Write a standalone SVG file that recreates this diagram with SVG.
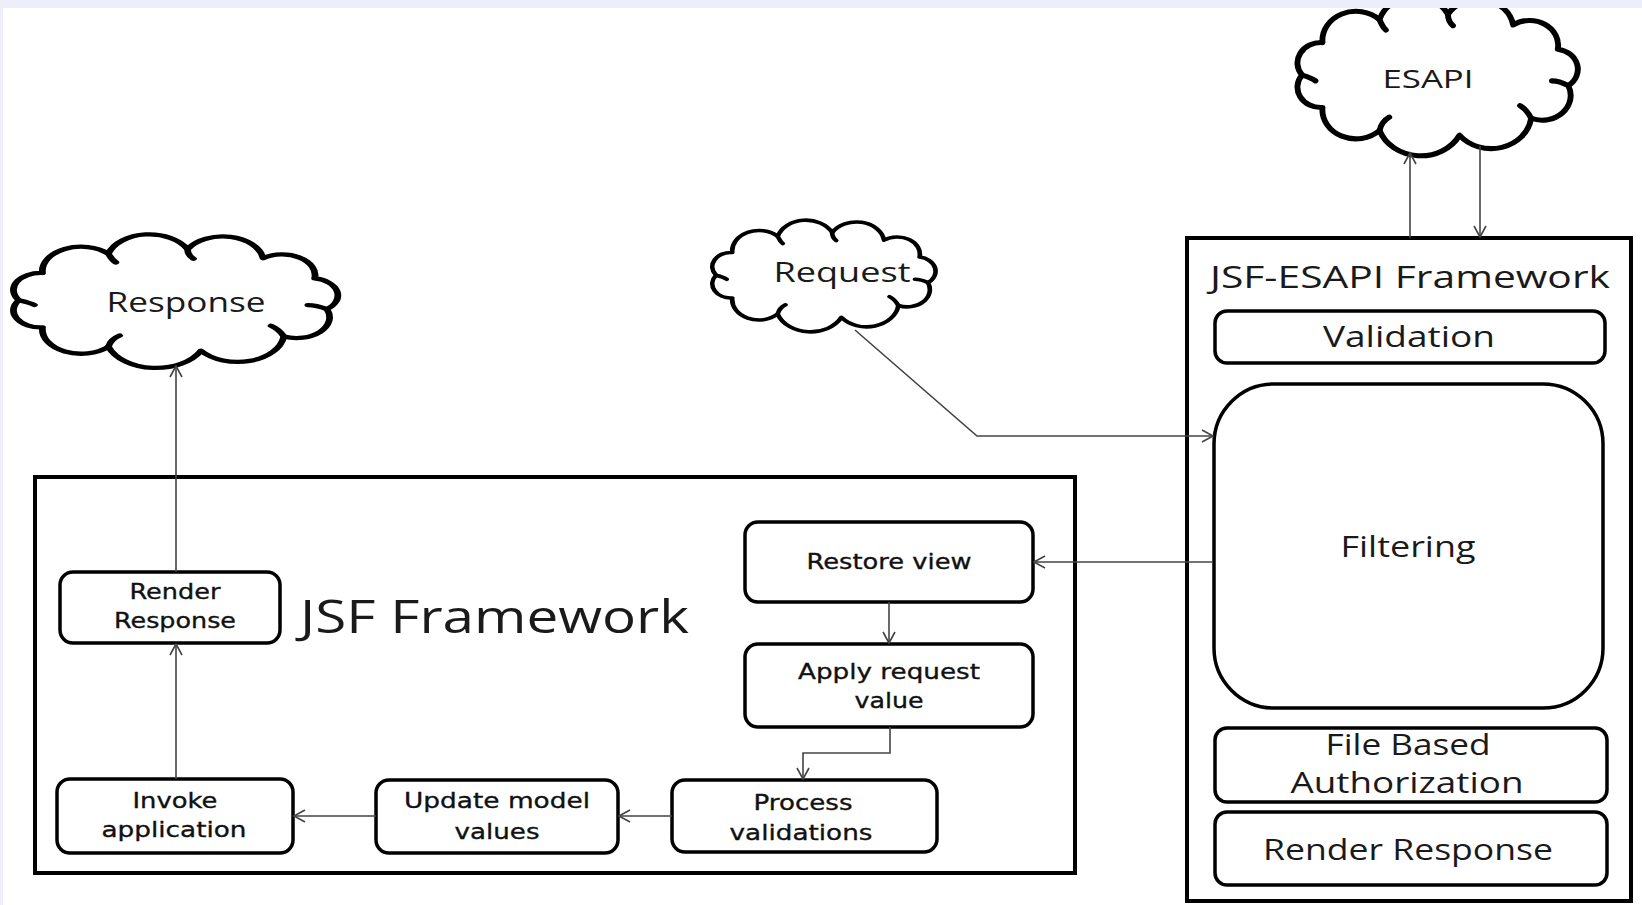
<svg xmlns="http://www.w3.org/2000/svg" width="1642" height="905" viewBox="0 0 1642 905">
<defs>
<style>
.cloud{fill:#fff;stroke:#000;stroke-width:3.5;vector-effect:non-scaling-stroke;stroke-linejoin:round;stroke-linecap:round}
.curl{fill:none;stroke:#000;stroke-width:3.5;vector-effect:non-scaling-stroke;stroke-linecap:round}
.frame{fill:#fff;stroke:#000;stroke-width:4}
.box{fill:#fff;stroke:#000;stroke-width:3.5}
.big{font-family:"Open Sans","Liberation Sans",sans-serif;fill:#1a1a1a;text-anchor:middle}
.small{font-family:"DejaVu Sans","Liberation Sans",sans-serif;fill:#111;stroke:#111;stroke-width:0.35;text-anchor:middle;font-size:22px}
.conn{fill:none;stroke:#444;stroke-width:1.6}
</style>
<marker id="arr" markerUnits="userSpaceOnUse" markerWidth="16" markerHeight="16" refX="12" refY="7" orient="auto">
<path d="M1,1 L12,7 L1,13" fill="none" stroke="#444" stroke-width="1.6"/>
</marker>
<path id="cloudShape" d="M20,60 A14,14 0 0 1 32.2,37.7 A20,20 0 0 1 66.2,21.9 A22,22 0 0 1 107,18.2 A21,21 0 0 1 145.9,25.6 A17,17 0 0 1 172.5,42.2 A14,14 0 0 1 178.8,67.3 A17,17 0 0 1 156.6,89.7 A24,24 0 0 1 113.9,101.4 A26,26 0 0 1 66.2,98.1 A20,20 0 0 1 32.2,82.3 A14,14 0 0 1 20,60 Z"/>
<path id="cloudCurls" d="M20,60 C23,61 26,62 28,64 M66.2,98.1 C67,94 69,91 72,89 M156.6,89.7 C155,86 153,83 150,81 M107,18.2 C107,21 108,24 110,26 M66.2,21.9 C67,24 68,27 70,29 M178.8,67.3 C175,65 172,64 169,64"/>
</defs>
<rect x="0" y="0" width="1642" height="905" fill="#fff"/>

<g id="response-cloud">
<g transform="translate(-20,227) scale(1.94,1.22)">
<use href="#cloudShape" class="cloud"/>
<use href="#cloudCurls" class="curl"/>
</g>
<text class="big" x="186" y="312" font-size="27" textLength="159" lengthAdjust="spacingAndGlyphs">Response</text>
</g>

<g id="request-cloud">
<g transform="translate(689.3,214) scale(1.335,1.02)">
<use href="#cloudShape" class="cloud"/>
<use href="#cloudCurls" class="curl"/>
</g>
<text class="big" x="842" y="282" font-size="27" textLength="137" lengthAdjust="spacingAndGlyphs">Request</text>
</g>

<g id="esapi-cloud">
<g transform="translate(1268.5,-12.2) scale(1.677,1.454)">
<use href="#cloudShape" class="cloud"/>
<use href="#cloudCurls" class="curl"/>
</g>
<text class="big" x="1428" y="88" font-size="25" textLength="91" lengthAdjust="spacingAndGlyphs">ESAPI</text>
</g>

<g id="jsf-framework">
<rect class="frame" x="35" y="477" width="1040" height="396"/>
<text x="300" y="633" font-family="Open Sans, Liberation Sans, sans-serif" font-size="46" fill="#1a1a1a" textLength="389" lengthAdjust="spacingAndGlyphs">JSF Framework</text>
</g>

<g id="jsf-esapi-framework">
<rect class="frame" x="1187" y="238" width="444" height="663"/>
<text class="big" x="1410" y="288" font-size="31" textLength="400" lengthAdjust="spacingAndGlyphs">JSF-ESAPI Framework</text>
</g>

<g id="validation">
<rect class="box" x="1215" y="311" width="390" height="52" rx="12"/>
<text class="big" x="1409" y="347" font-size="29" textLength="172" lengthAdjust="spacingAndGlyphs">Validation</text>
</g>

<g id="filtering">
<rect class="box" x="1214" y="384" width="389" height="324" rx="60"/>
<text class="big" x="1408" y="557" font-size="29" textLength="135" lengthAdjust="spacingAndGlyphs">Filtering</text>
</g>

<g id="file-based-authorization">
<rect class="box" x="1215" y="728" width="392" height="74" rx="12"/>
<text class="big" x="1408" y="755" font-size="30" textLength="165" lengthAdjust="spacingAndGlyphs">File Based</text>
<text class="big" x="1407" y="793" font-size="30" textLength="233" lengthAdjust="spacingAndGlyphs">Authorization</text>
</g>

<g id="esapi-render-response">
<rect class="box" x="1215" y="812" width="392" height="73" rx="12"/>
<text class="big" x="1408" y="860" font-size="30" textLength="290" lengthAdjust="spacingAndGlyphs">Render Response</text>
</g>

<g id="restore-view">
<rect class="box" x="745" y="522" width="288" height="80" rx="13"/>
<text class="small" x="889" y="569" textLength="165" lengthAdjust="spacingAndGlyphs">Restore view</text>
</g>

<g id="apply-request-value">
<rect class="box" x="745" y="644" width="288" height="83" rx="13"/>
<text class="small" x="889" y="679" textLength="182" lengthAdjust="spacingAndGlyphs">Apply request</text>
<text class="small" x="889" y="708" textLength="69" lengthAdjust="spacingAndGlyphs">value</text>
</g>

<g id="process-validations">
<rect class="box" x="672" y="780" width="265" height="72" rx="13"/>
<text class="small" x="803" y="810" textLength="99" lengthAdjust="spacingAndGlyphs">Process</text>
<text class="small" x="801" y="840" textLength="143" lengthAdjust="spacingAndGlyphs">validations</text>
</g>

<g id="update-model-values">
<rect class="box" x="376" y="780" width="242" height="73" rx="13"/>
<text class="small" x="497" y="808" textLength="186" lengthAdjust="spacingAndGlyphs">Update model</text>
<text class="small" x="497" y="839" textLength="85" lengthAdjust="spacingAndGlyphs">values</text>
</g>

<g id="invoke-application">
<rect class="box" x="57" y="779" width="236" height="74" rx="13"/>
<text class="small" x="175" y="808" textLength="85" lengthAdjust="spacingAndGlyphs">Invoke</text>
<text class="small" x="174" y="837" textLength="145" lengthAdjust="spacingAndGlyphs">application</text>
</g>

<g id="render-response">
<rect class="box" x="60" y="572" width="220" height="71" rx="13"/>
<text class="small" x="175" y="599" textLength="91" lengthAdjust="spacingAndGlyphs">Render</text>
<text class="small" x="175" y="628" textLength="122" lengthAdjust="spacingAndGlyphs">Response</text>
</g>

<g id="connectors">
<line class="conn" x1="1410" y1="238" x2="1410" y2="153" marker-end="url(#arr)"/>
<line class="conn" x1="1480" y1="146" x2="1480" y2="237" marker-end="url(#arr)"/>
<polyline class="conn" points="855,330 977,436 1213,436" marker-end="url(#arr)"/>
<line class="conn" x1="1213" y1="562" x2="1034" y2="562" marker-end="url(#arr)"/>
<line class="conn" x1="889" y1="602" x2="889" y2="643" marker-end="url(#arr)"/>
<polyline class="conn" points="890,727 890,753 803,753 803,779" marker-end="url(#arr)"/>
<line class="conn" x1="672" y1="816" x2="619" y2="816" marker-end="url(#arr)"/>
<line class="conn" x1="376" y1="816" x2="294" y2="816" marker-end="url(#arr)"/>
<line class="conn" x1="176" y1="779" x2="176" y2="644" marker-end="url(#arr)"/>
<line class="conn" x1="176" y1="572" x2="176" y2="366" marker-end="url(#arr)"/>
</g>

<rect x="0" y="0" width="1642" height="8" fill="#eeeefa"/>
<rect x="0" y="0" width="3" height="905" fill="#eeeefa"/>
</svg>
